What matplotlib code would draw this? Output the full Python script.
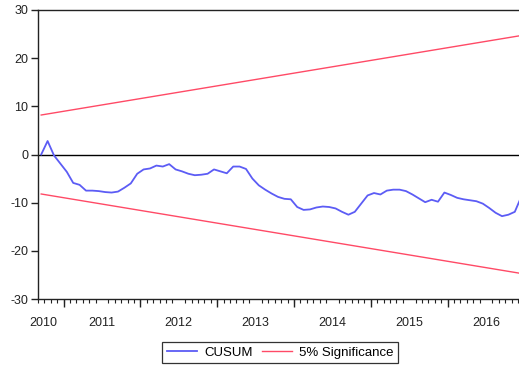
import matplotlib
matplotlib.use("Agg")
import matplotlib.pyplot as plt
from matplotlib.lines import Line2D

plt.rcParams['font.family'] = ['Liberation Sans', 'DejaVu Sans']

# Monthly sample 2010M09 - 2016M12
start_year, start_month = 2010, 9
cusum = [0.0, 2.8, -0.2, -1.9, -3.6, -5.9, -6.3, -7.5, -7.5, -7.6,
         -7.8, -7.9, -7.7, -6.9, -6.0, -4.0, -3.1, -2.9, -2.3, -2.5,
         -2.0, -3.1, -3.5, -4.0, -4.3, -4.2, -4.0, -3.1, -3.5, -3.9,
         -2.5, -2.5, -3.0, -5.0, -6.4, -7.3, -8.1, -8.8, -9.2, -9.3,
         -10.9, -11.5, -11.4, -11.0, -10.8, -10.9, -11.2, -11.9, -12.5, -11.9,
         -10.2, -8.5, -8.0, -8.3, -7.5, -7.3, -7.3, -7.6, -8.3, -9.1,
         -9.9, -9.4, -9.8, -7.9, -8.4, -9.0, -9.3, -9.5, -9.7, -10.2,
         -11.1, -12.1, -12.8, -12.5, -11.9, -8.8]
upper_bound = [8.2, 24.7]     # first and last observation
lower_bound = [-8.2, -24.7]
years = [2010, 2011, 2012, 2013, 2014, 2015, 2016]
y_ticks = [-30, -20, -10, 0, 10, 20, 30]

n = len(cusum)
idx = list(range(n))

W, H = 519, 369
fig = plt.figure(figsize=(W / 100, H / 100), dpi=100)
left_px, right_px, top_px, bottom_px = 38, 524.4, 10, 299
ax = fig.add_axes([left_px / W, 1 - bottom_px / H,
                   (right_px - left_px) / W, (bottom_px - top_px) / H])

blue = '#5c5cf5'
red = '#ff4a66'

ax.axhline(0, color='black', lw=1.0, zorder=1)
ax.plot([0, n - 1], upper_bound, color=red, lw=1.0, zorder=2)
ax.plot([0, n - 1], lower_bound, color=red, lw=1.0, zorder=2)
ax.plot(idx, cusum, color=blue, lw=1.3, zorder=3)

ax.set_xlim(-0.5, n - 0.5)
ax.set_ylim(-30, 30)

for s in ['left', 'top', 'bottom']:
    ax.spines[s].set_linewidth(1.0)
    ax.spines[s].set_color('#222222')
ax.spines['right'].set_visible(False)

ax.set_yticks(y_ticks)
ax.set_yticklabels([str(v) for v in y_ticks])
ax.tick_params(axis='y', direction='out', length=5, width=1.0,
               pad=2, labelsize=9, colors='#222222')

# year positions within the monthly index
first_jan = (12 - start_month + 1)          # index of first January
boundaries = [first_jan - 0.5 + 12 * k for k in range(len(years) - 1)]
label_pos = [0.4] + [first_jan + 12 * k + 5.5 for k in range(len(years) - 1)]

ax.set_xticks(label_pos)
ax.set_xticklabels([str(y) for y in years])
ax.set_xticks([k - 0.5 for k in range(n + 1)], minor=True)
ax.tick_params(axis='x', which='major', length=0, pad=13, labelsize=9,
               colors='#222222')
ax.tick_params(axis='x', which='minor', direction='out', length=3, width=0.8,
               color='#222222')

sec = ax.secondary_xaxis('bottom')
sec.set_xticks(boundaries)
sec.set_xticklabels([''] * len(boundaries))
sec.tick_params(direction='out', length=6, width=1.0, color='#222222')
sec.spines['bottom'].set_visible(False)

handles = [Line2D([], [], color=blue, lw=1.3),
           Line2D([], [], color=red, lw=1.0)]
leg = fig.legend(handles, ['CUSUM', '5% Significance'], ncol=2,
                 loc='center', bbox_to_anchor=(280 / W, 1 - 352.5 / H),
                 fontsize=9.5, frameon=True, fancybox=False,
                 handlelength=2.3, handletextpad=0.5, columnspacing=0.7,
                 borderpad=0.35, edgecolor='black')
leg.get_frame().set_linewidth(0.9)

fig.savefig('out.png', dpi=100)
